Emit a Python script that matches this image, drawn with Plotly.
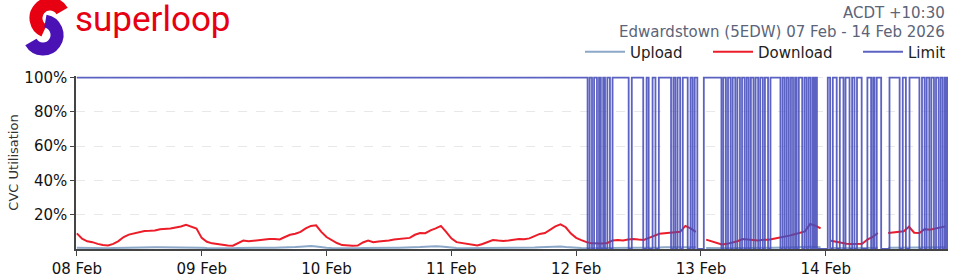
import base64
import pandas as pd
import plotly.graph_objects as go

# ---------------- data ----------------
START = "2026-02-08 00:00"
HOURS = pd.date_range(START, periods=168, freq="h")
DAY_TICKS = ["2026-02-08", "2026-02-09", "2026-02-10", "2026-02-11",
             "2026-02-12", "2026-02-13", "2026-02-14"]
DAY_LABELS = ["08 Feb", "09 Feb", "10 Feb", "11 Feb", "12 Feb", "13 Feb", "14 Feb"]
Y_TICKS = [20, 40, 60, 80, 100]
Y_LABELS = ["20%", "40%", "60%", "80%", "100%"]

# Download utilisation (%), hourly
DOWNLOAD_08 = [9.1, 6.0, 4.5, 4.0, 3.0, 2.3, 2.1, 3.0, 4.6, 7.0, 8.4, 9.1,
               10.0, 10.5, 10.6, 10.8, 11.5, 11.6, 12.0, 12.6, 13.1, 14.1, 13.0, 12.0]
DOWNLOAD_09 = [6.5, 4.2, 3.3, 2.8, 2.3, 2.0, 1.9, 3.6, 4.9, 4.5, 4.9, 4.9,
               5.4, 5.8, 5.8, 5.6, 7.0, 8.3, 8.9, 10.0, 12.0, 13.5, 13.8, 10.0]
DOWNLOAD_10 = [7.0, 5.0, 3.5, 2.3, 1.9, 1.9, 2.0, 3.8, 4.9, 4.0, 4.4, 4.5,
               5.0, 5.5, 5.8, 5.9, 6.5, 8.3, 9.3, 9.2, 10.9, 12.0, 13.5, 10.0]
DOWNLOAD_11 = [6.2, 4.0, 3.5, 3.1, 2.7, 2.0, 2.9, 4.0, 5.2, 4.9, 4.7, 5.0,
               5.6, 5.8, 5.7, 6.2, 7.5, 8.8, 9.3, 11.5, 13.2, 14.4, 12.7, 9.0]
DOWNLOAD_12 = [6.5, 5.2, 4.0, 3.3, 3.1, 3.2, 3.5, 5.0, 5.2, 5.0, 5.5, 5.8,
               5.5, 5.3, 6.5, 7.7, 8.9, 9.2, 9.6, 10.0, 10.0, 13.5, 12.0, 10.0]
DOWNLOAD_13 = [None, 5.5, 4.5, 3.5, 2.6, 3.0, 3.8, 4.5, 5.8, 5.5, 5.2, 5.0,
               5.4, 5.4, 6.0, 6.5, 7.3, 7.8, 8.6, 9.3, 10.3, 14.6, 13.6, 12.0]
DOWNLOAD_14 = [None, 4.8, 4.2, 3.6, 3.1, 2.9, 2.8, 3.0, 5.5, 7.0, 9.3, None,
               9.3, 9.7, 9.8, 10.3, 13.0, 9.5, 9.3, 11.6, 11.3, 12.0, 12.8, 13.2]

# Upload utilisation (%), hourly
UPLOAD_08 = [0.8, 0.7, 0.6, 0.5, 0.5, 0.5, 0.5, 0.6, 0.7, 0.8, 0.9, 0.9,
             0.9, 0.9, 1.0, 1.0, 1.0, 1.0, 1.1, 1.1, 1.2, 1.2, 1.1, 1.0]
UPLOAD_09 = [0.8, 0.6, 0.5, 0.5, 0.5, 0.5, 0.5, 0.6, 0.7, 0.7, 0.7, 0.7,
             0.8, 0.8, 0.8, 0.8, 0.9, 1.0, 1.1, 1.3, 1.6, 1.8, 1.5, 1.0]
UPLOAD_10 = [0.8, 0.6, 0.5, 0.5, 0.5, 0.5, 0.5, 0.6, 0.7, 0.7, 0.7, 0.7,
             0.8, 0.8, 0.8, 0.8, 0.9, 1.0, 1.1, 1.3, 1.5, 1.6, 1.4, 1.0]
UPLOAD_11 = [0.8, 0.6, 0.5, 0.5, 0.5, 0.5, 0.5, 0.6, 0.7, 0.7, 0.7, 0.7,
             0.8, 0.8, 0.8, 0.8, 0.9, 1.0, 1.1, 1.2, 1.6, 1.5, 1.2, 0.9]
UPLOAD_12 = [0.8, 0.6, 0.5, 0.5, 0.5, 0.5, 0.5, 0.6, 0.7, 0.7, 0.7, 0.7,
             0.8, 0.8, 0.8, 0.8, 0.9, 1.0, 1.0, 1.1, 1.1, 1.3, 1.2, 1.0]
UPLOAD_13 = [None, 0.6, 0.5, 0.5, 0.5, 0.5, 0.5, 0.6, 0.7, 0.7, 0.7, 0.7,
             0.8, 0.8, 0.8, 0.8, 0.9, 1.0, 1.0, 1.1, 1.2, 1.3, 1.2, 1.0]
UPLOAD_14 = [None, 0.6, 0.5, 0.5, 0.5, 0.5, 0.5, 0.6, 0.7, 0.7, 0.8, None,
             0.8, 0.8, 0.8, 0.8, 0.9, 1.0, 1.0, 1.1, 1.2, 1.2, 1.1, 1.0]

# Limit: periods where the limit dropped from 100% to 0%
LIMIT_OFF_START = [
    "2026-02-12 02:12", "2026-02-12 03:03", "2026-02-12 04:00", "2026-02-12 04:45",
    "2026-02-12 05:33", "2026-02-12 06:30", "2026-02-12 10:06", "2026-02-12 12:54",
    "2026-02-12 13:57", "2026-02-12 15:15", "2026-02-12 18:15", "2026-02-12 19:05",
    "2026-02-12 20:00", "2026-02-12 21:27", "2026-02-12 22:24", "2026-02-12 23:18",
    "2026-02-13 03:56", "2026-02-13 04:48", "2026-02-13 05:42", "2026-02-13 06:36",
    "2026-02-13 07:30", "2026-02-13 08:24", "2026-02-13 09:12", "2026-02-13 10:06",
    "2026-02-13 11:00", "2026-02-13 11:54", "2026-02-13 12:54", "2026-02-13 15:17",
    "2026-02-13 16:06", "2026-02-13 16:54", "2026-02-13 17:42", "2026-02-13 18:24",
    "2026-02-13 19:28", "2026-02-13 20:18", "2026-02-13 21:06", "2026-02-13 21:48",
    "2026-02-13 22:18",
    "2026-02-14 00:50", "2026-02-14 02:06", "2026-02-14 03:24", "2026-02-14 04:34",
    "2026-02-14 05:31", "2026-02-14 06:54", "2026-02-14 08:43", "2026-02-14 09:22",
    "2026-02-14 10:39", "2026-02-14 14:12", "2026-02-14 15:24", "2026-02-14 18:00",
    "2026-02-14 19:00", "2026-02-14 19:54", "2026-02-14 20:48", "2026-02-14 21:42",
    "2026-02-14 22:30", "2026-02-14 23:12",
]
LIMIT_OFF_END = [
    "2026-02-12 02:36", "2026-02-12 03:27", "2026-02-12 04:24", "2026-02-12 05:12",
    "2026-02-12 06:00", "2026-02-12 07:00", "2026-02-12 10:42", "2026-02-12 13:33",
    "2026-02-12 14:42", "2026-02-12 15:54", "2026-02-12 18:42", "2026-02-12 19:30",
    "2026-02-12 20:30", "2026-02-12 22:00", "2026-02-12 22:48", "2026-02-13 00:33",
    "2026-02-13 04:18", "2026-02-13 05:12", "2026-02-13 06:06", "2026-02-13 07:00",
    "2026-02-13 07:54", "2026-02-13 08:48", "2026-02-13 09:36", "2026-02-13 10:30",
    "2026-02-13 11:24", "2026-02-13 12:18", "2026-02-13 13:22", "2026-02-13 15:42",
    "2026-02-13 16:30", "2026-02-13 17:18", "2026-02-13 18:06", "2026-02-13 18:49",
    "2026-02-13 19:54", "2026-02-13 20:42", "2026-02-13 21:30", "2026-02-13 22:06",
    "2026-02-14 00:23",
    "2026-02-14 01:21", "2026-02-14 02:42", "2026-02-14 03:48", "2026-02-14 05:04",
    "2026-02-14 06:00", "2026-02-14 08:00", "2026-02-14 09:06", "2026-02-14 09:48",
    "2026-02-14 12:15", "2026-02-14 14:48", "2026-02-14 16:06", "2026-02-14 18:30",
    "2026-02-14 19:24", "2026-02-14 20:18", "2026-02-14 21:12", "2026-02-14 22:06",
    "2026-02-14 22:54", "2026-02-14 23:30",
]
LIMIT_FULL = 100
LIMIT_NONE = 0
DATA_END = "2026-02-14 23:45"

# ---------------- build traces ----------------
download = DOWNLOAD_08 + DOWNLOAD_09 + DOWNLOAD_10 + DOWNLOAD_11 + DOWNLOAD_12 + DOWNLOAD_13 + DOWNLOAD_14
upload = UPLOAD_08 + UPLOAD_09 + UPLOAD_10 + UPLOAD_11 + UPLOAD_12 + UPLOAD_13 + UPLOAD_14

lim_x = [START]
lim_y = [LIMIT_FULL]
for s, e in zip(LIMIT_OFF_START, LIMIT_OFF_END):
    lim_x += [s, e]
    lim_y += [LIMIT_NONE, LIMIT_FULL]
lim_x.append(DATA_END)
lim_y.append(LIMIT_FULL)

FONT = "DejaVu Sans"
fig = go.Figure()
fig.add_trace(go.Scatter(x=HOURS, y=upload, name="Upload", mode="lines", legend="legend",
                         line=dict(color="rgb(140,168,200)", width=2)))
fig.add_trace(go.Scatter(x=HOURS, y=download, name="Download", mode="lines", legend="legend2",
                         line=dict(color="rgb(236,28,40)", width=2)))
fig.add_trace(go.Scatter(x=lim_x, y=lim_y, name="Limit", mode="lines", legend="legend3",
                         line=dict(color="rgba(70,76,186,0.88)", width=1.8, shape="hv")))

# logo icon (decorative)
svg = ('<svg xmlns="http://www.w3.org/2000/svg" width="70" height="56" viewBox="0 0 70 56">'
       '<path d="M 62.1 11 A 14 14 0 1 0 44.1 30.7" fill="none" stroke="#e60012" stroke-width="13"/>'
       '<path d="M 45.4 21.2 A 14 14 0 1 1 30.9 42" fill="none" stroke="#4a12b4" stroke-width="13"/>'
       '</svg>')
logo_src = "data:image/svg+xml;base64," + base64.b64encode(svg.encode()).decode()

W, H = 960, 280
L, R, T, B = 76, 12, 76, 31


def cx(x):
    return x / W


def cy(y):
    return 1 - y / H


def leg(xpix):
    return dict(orientation="h", xref="container", yref="container",
                x=cx(xpix), xanchor="left", y=cy(52), yanchor="middle",
                font=dict(family=FONT, size=15, color="#222"), bgcolor="rgba(0,0,0,0)",
                borderwidth=0, itemwidth=40)


fig.update_layout(
    width=W, height=H,
    margin=dict(l=L, r=R, t=T, b=B, autoexpand=False),
    paper_bgcolor="white", plot_bgcolor="white",
    font=dict(family=FONT, size=15, color="#111"),
    showlegend=True,
    legend=leg(580), legend2=leg(708), legend3=leg(858),
    images=[dict(source=logo_src, xref="paper", yref="paper",
                 x=(0 - L) / (W - L - R), y=(H - B) / (H - T - B),
                 sizex=70 / (W - L - R), sizey=56 / (H - T - B),
                 xanchor="left", yanchor="top", sizing="stretch", layer="above")],
    annotations=[
        dict(text="superloop", xref="paper", yref="paper",
             x=(73 - L) / (W - L - R), y=(H - B - 19) / (H - T - B),
             xanchor="left", yanchor="middle", showarrow=False,
             font=dict(family="Roboto", size=35, color="#e60012")),
        dict(text="ACDT +10:30", xref="paper", yref="paper",
             x=(947 - L) / (W - L - R), y=(H - B - 13) / (H - T - B),
             xanchor="right", yanchor="middle", showarrow=False,
             font=dict(family=FONT, size=15, color="#5b6478")),
        dict(text="Edwardstown (5EDW) 07 Feb - 14 Feb 2026", xref="paper", yref="paper",
             x=(947 - L) / (W - L - R), y=(H - B - 32) / (H - T - B),
             xanchor="right", yanchor="middle", showarrow=False,
             font=dict(family=FONT, size=15, color="#5b6478")),
    ],
)
fig.update_xaxes(type="date", range=["2026-02-07 23:50", "2026-02-14 23:30"],
                 tickvals=DAY_TICKS, ticktext=DAY_LABELS, ticks="outside", ticklen=5,
                 tickcolor="#444", showline=True, linecolor="#444", linewidth=1.5,
                 showgrid=False, zeroline=False, tickfont=dict(size=15, color="#111"),
                 automargin=False)
fig.update_yaxes(range=[0, 101], tickvals=Y_TICKS, ticktext=Y_LABELS, ticks="outside",
                 ticklen=4, tickcolor="#444", showline=True, linecolor="#444", linewidth=1.5,
                 showgrid=True, gridcolor="#e8e8e8", griddash="dash", zeroline=False,
                 tickfont=dict(size=15, color="#111"), automargin=False,
                 title=dict(text="CVC Utilisation", font=dict(size=13, color="#333"), standoff=3))

fig.write_html("out.html")
